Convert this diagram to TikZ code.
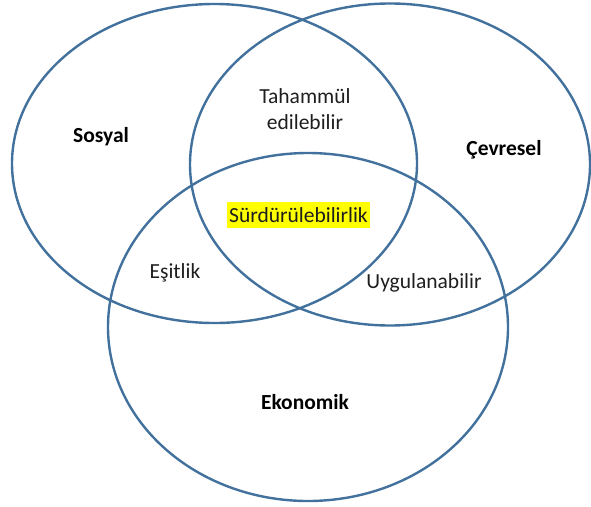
\documentclass[tikz,border=0pt]{standalone}
\usepackage{fontspec}
\setmainfont{Carlito}
\usetikzlibrary{shapes.geometric}
\definecolor{ringblue}{RGB}{65,113,156}
\definecolor{hl}{RGB}{255,255,0}
\definecolor{txt}{RGB}{30,30,30}
\tikzset{
  ring/.style={ellipse, draw=ringblue, line width=2.4pt, inner sep=0pt},
  lab/.style={text=txt, font=\fontsize{21.5}{26}\selectfont, align=center, inner sep=0pt},
  blab/.style={lab, font=\fontsize{21.5}{26}\selectfont\bfseries, text=black},
  hlab/.style={lab, fill=hl, inner xsep=2pt, minimum height=26pt}
}
\begin{document}
\begin{tikzpicture}[x=1pt, y=-1pt]
\useasboundingbox (0,0) rectangle (591,506);
\node[ring, minimum width=405pt, minimum height=319pt] (sos) at (214.5,163.5) {};
\node[ring, minimum width=400pt, minimum height=322pt] (cev) at (390,164.5) {};
\node[ring, minimum width=400pt, minimum height=348pt] (eko) at (308,327) {};
\node[blab] (tsos) at (101,137) {Sosyal};
\node[blab] (tcev) at (504,150) {Çevresel};
\node[blab] (teko) at (305,402) {Ekonomik};
\node[lab] (ttah) at (305,109) {Tahammül\\edilebilir};
\node[lab] (tesi) at (175,273) {Eşitlik};
\node[lab] (tuyg) at (424,283) {Uygulanabilir};
\node[hlab] (tsur) at (298.5,215) {Sürdürülebilirlik};
\end{tikzpicture}
\end{document}
